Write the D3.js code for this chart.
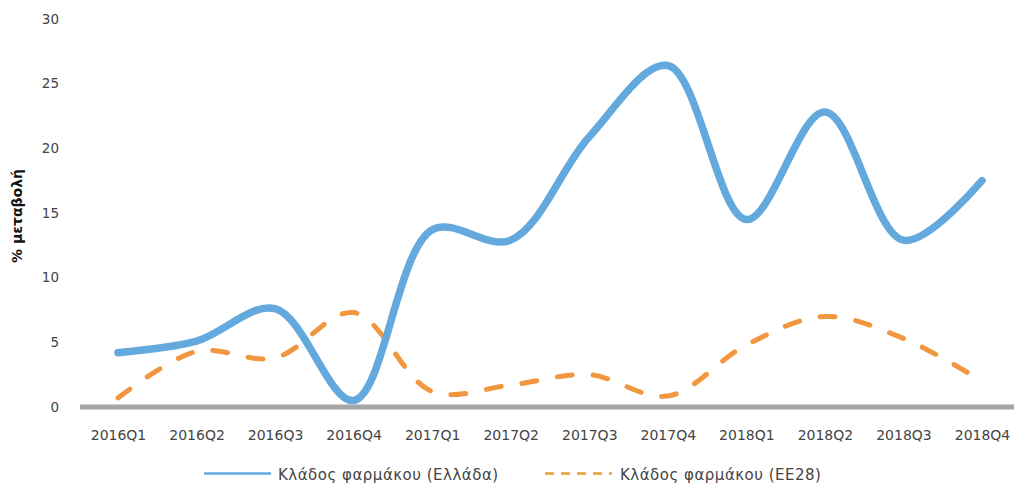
<!DOCTYPE html>
<html>
<head>
<meta charset="utf-8">
<script src="https://cdn.jsdelivr.net/npm/d3@7"></script>
<style>
  html, body { margin: 0; padding: 0; background: #fff; }
  svg text { font-family: "DejaVu Sans", sans-serif; }
</style>
</head>
<body>
<svg id="chart" width="1014" height="485"></svg>
<script>
// Quarterly % change, pharmaceutical sector
const quarters = ["2016Q1","2016Q2","2016Q3","2016Q4","2017Q1","2017Q2","2017Q3","2017Q4","2018Q1","2018Q2","2018Q3","2018Q4"];
const greece = [4.2, 5.1, 7.6, 0.5, 13.7, 12.9, 20.9, 26.4, 14.5, 22.8, 12.9, 17.5];
const eu28   = [0.7, 4.3, 3.8, 7.3, 1.2, 1.7, 2.5, 0.85, 4.8, 7.0, 5.3, 2.0];
const yTicks = [0, 5, 10, 15, 20, 25, 30];
const seriesNames = ["Κλάδος φαρμάκου (Ελλάδα)", "Κλάδος φαρμάκου (ΕΕ28)"];

const blue = "#64a9de", orange = "#f0973f", textCol = "#444";

const svg = d3.select("#chart");

const x = d3.scalePoint().domain(quarters).range([118, 982]);
const y = d3.scaleLinear().domain([0, 30]).range([407, 19]);

// y tick labels (no axis line)
const yAxis = d3.axisLeft(y).tickValues(yTicks).tickSize(0).tickPadding(0);
const gy = svg.append("g").attr("transform", "translate(59,0)").call(yAxis);
gy.select(".domain").remove();
gy.selectAll("text").attr("font-size", 13.5).attr("fill", textCol)
  .attr("font-family", "DejaVu Sans, sans-serif");

// Axis title
svg.append("text")
  .attr("transform", "translate(22,216) rotate(-90)")
  .attr("text-anchor", "middle")
  .attr("font-size", 14).attr("font-weight", "bold").attr("fill", "#111")
  .text("% μεταβολή");

// x axis: thick gray baseline with category labels
const xAxis = d3.axisBottom(x).tickSize(0).tickPadding(23);
const gx = svg.append("g").attr("transform", `translate(0,${y(0)})`).call(xAxis);
gx.select(".domain").remove();
gx.selectAll("text").attr("font-size", 14).attr("fill", textCol)
  .attr("font-family", "DejaVu Sans, sans-serif");
svg.append("line")
  .attr("x1", 80).attr("x2", 1014)
  .attr("y1", y(0)).attr("y2", y(0))
  .attr("stroke", "#a6a6a6").attr("stroke-width", 5);

const line = d3.line()
  .x((d, i) => x(quarters[i]))
  .y(d => y(d))
  .curve(d3.curveCatmullRom.alpha(0.5));

svg.append("path")
  .datum(eu28)
  .attr("d", line)
  .attr("fill", "none")
  .attr("stroke", orange)
  .attr("stroke-width", 5)
  .attr("stroke-linecap", "round")
  .attr("stroke-dasharray", "15,21");

svg.append("path")
  .datum(greece)
  .attr("d", line)
  .attr("fill", "none")
  .attr("stroke", blue)
  .attr("stroke-width", 7.5)
  .attr("stroke-linecap", "round");

// Legend
const legend = svg.append("g");
legend.append("line")
  .attr("x1", 204).attr("x2", 271).attr("y1", 473.5).attr("y2", 473.5)
  .attr("stroke", blue).attr("stroke-width", 2.5);
legend.append("text")
  .attr("x", 278).attr("y", 479.5)
  .attr("font-size", 15).attr("letter-spacing", 0.5).attr("fill", textCol)
  .text(seriesNames[0]);
legend.append("line")
  .attr("x1", 545).attr("x2", 612).attr("y1", 473.5).attr("y2", 473.5)
  .attr("stroke", orange).attr("stroke-width", 2.5)
  .attr("stroke-dasharray", "9,7");
legend.append("text")
  .attr("x", 620).attr("y", 479.5)
  .attr("font-size", 15).attr("letter-spacing", 0.5).attr("fill", textCol)
  .text(seriesNames[1]);
</script>
</body>
</html>
